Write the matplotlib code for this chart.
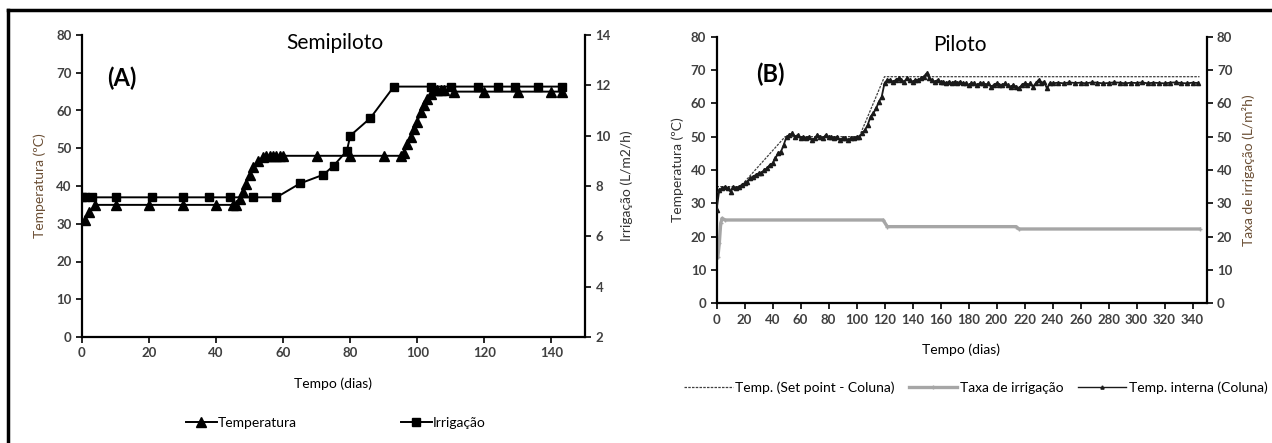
import matplotlib
matplotlib.use("Agg")
import matplotlib.pyplot as plt
from matplotlib.lines import Line2D
import numpy as np

plt.rcParams['font.family'] = ['Lato', 'DejaVu Sans']

# ---------------- Panel A data ----------------
tempA_x = [1, 2, 4, 10, 20, 30, 40, 45, 46, 47, 48, 49, 50, 51, 52.5, 54, 55, 56, 57, 58, 59, 60,
           70, 80, 90, 95, 96, 97, 98, 99, 100, 101, 102, 103, 104, 105, 106, 107, 108, 111, 120, 130, 140, 143]
tempA_y = [31, 33, 35, 35, 35, 35, 35, 35, 35, 36.5, 38.5, 40.5, 43, 45, 46.5, 47.8, 48, 48, 48, 48, 48, 48,
           48, 48, 48, 48, 48.7, 51, 53, 55, 57, 59.5, 61.5, 63, 64.5, 65.5, 65.5, 65.5, 65.5, 65, 65, 65, 65, 65]

irrA_x = [0, 1, 3, 10, 21, 30, 38, 44, 51, 58, 65, 72, 75, 79, 80, 86, 93, 104, 110, 118, 124, 129, 136, 143]
irrA_y = [7.55, 7.55, 7.55, 7.55, 7.55, 7.55, 7.55, 7.55, 7.55, 7.55, 8.1, 8.45, 8.8, 9.4, 10.0, 10.7,
          11.95, 11.95, 11.95, 11.95, 11.95, 11.95, 11.95, 11.95]

xticksA = [0, 20, 40, 60, 80, 100, 120, 140]
yticksA_left = [0, 10, 20, 30, 40, 50, 60, 70, 80]
yticksA_right = [2, 4, 6, 8, 10, 12, 14]

# ---------------- Panel B data ----------------
sp_x = [0, 17, 49, 102, 120, 345]
sp_y = [35, 35, 50, 50, 68, 68]

irrB_x = [1, 2, 3, 4, 6, 119, 122, 214, 216, 345]
irrB_y = [14, 18, 24, 25.5, 25, 25, 23, 23, 22.3, 22.3]

tint_x1 = list(range(0, 242, 2))
tint_y1 = [28, 34, 34.5, 35, 34.5, 33.5, 35, 34.5, 35, 35.5,
           36, 36.5, 37.5, 38, 38.5, 39, 39, 40, 40.5, 41.5,
           42, 43.5, 45, 45.5, 47.5, 50, 50.5, 51, 50, 50.5,
           49.5, 50, 49.5, 50, 49, 49.5, 50.5, 50, 49.5, 50.5,
           50, 50, 49.5, 50, 49, 49.5, 49.5, 49, 49.5, 49.5,
           50, 50, 51, 52, 53.5, 56, 57, 58.5, 60.5, 62,
           66, 67, 67, 66.5, 67, 67.5, 67, 66.5, 67.5, 67,
           66.5, 67, 67, 67.5, 68, 69, 67.5, 67, 66.5, 67,
           66.5, 66.5, 66, 66.5, 66, 66.5, 66, 66.5, 66, 66,
           65.5, 66, 66, 65.5, 66, 66, 65.5, 66, 65, 65.5,
           66, 65.5, 65.5, 66, 65.5, 65, 65.5, 65, 64.5, 65.5,
           66, 65.5, 66, 65, 66, 67, 66, 66.5, 64.5, 66, 66]
tint_x2 = list(range(244, 348, 4))
tint_y2 = [66.2, 66, 66.3, 66.1, 66.2, 66, 66.3, 66.2, 66, 66.1, 66.3, 66.2, 66,
           66.2, 66.1, 66.3, 66, 66.2, 66.1, 66, 66.2, 66.3, 66.1, 66, 66.2, 66.1]
tint_x = tint_x1 + tint_x2
tint_y = tint_y1 + tint_y2

xticksB = list(range(0, 341, 20))
yticksB = list(range(0, 81, 10))

W, H = 1272, 443
fig = plt.figure(figsize=(W / 100, H / 100), dpi=100)

def fx(px):
    return px / W

def fy(py):
    return 1 - py / H

tick_color = '#404040'
tick_kw = dict(labelsize=9.5, colors='black', labelcolor=tick_color, width=1.2, length=4, direction='out')
lab_fs = 10

def finish(a_main, a_twin):
    a_main.spines['right'].set_visible(False)
    a_main.spines['top'].set_visible(False)
    a_twin.spines['top'].set_visible(False)
    a_twin.spines['left'].set_visible(False)
    a_twin.spines['bottom'].set_visible(False)
    for a in (a_main, a_twin):
        a.tick_params(**tick_kw)
        for s in a.spines.values():
            s.set_linewidth(1.6)
        for lab in a.get_xticklabels() + a.get_yticklabels():
            lab.set_fontweight('bold')

# ---------------- Panel A ----------------
axA = fig.add_axes([fx(82), fy(337), fx(585) - fx(82), fy(35) - fy(337)])
axA2 = axA.twinx()
axA.plot(tempA_x, tempA_y, color='black', lw=1.4, marker='^', ms=6.5, zorder=3)
axA2.plot(irrA_x, irrA_y, color='black', lw=1.4, marker='s', ms=5.8, zorder=3)
axA.set_xlim(0, 150)
axA.set_ylim(0, 80)
axA2.set_ylim(2, 14)
axA.set_xticks(xticksA)
axA.set_yticks(yticksA_left)
axA2.set_yticks(yticksA_right)
finish(axA, axA2)
axA.set_xlabel('Tempo (dias)', fontsize=lab_fs, labelpad=13)
axA.set_ylabel('Temperatura (ºC)', fontsize=lab_fs, color='#6b4f35', labelpad=7)
axA2.set_ylabel('Irrigação (L/m2/h)', fontsize=lab_fs, color='#333333', labelpad=7)
axA.text(0.503, 0.975, 'Semipiloto', transform=axA.transAxes, fontsize=15, ha='center', va='center')
axA.text(0.08, 0.857, '(A)', transform=axA.transAxes, fontsize=17, fontweight='bold', ha='center', va='center')

hA = [Line2D([], [], color='black', lw=1.4, marker='^', ms=6.5),
      Line2D([], [], color='black', lw=1.4, marker='s', ms=5.8)]
fig.legend(hA, ['Temperatura', 'Irrigação'], loc='center', bbox_to_anchor=(fx(336), fy(423)),
           ncol=2, frameon=False, fontsize=10, columnspacing=7.5, handlelength=2.2, handletextpad=0.1)

# ---------------- Panel B ----------------
axB = fig.add_axes([fx(716.5), fy(303.3), fx(1206.5) - fx(716.5), fy(36.7) - fy(303.3)])
axB2 = axB.twinx()
axB.plot(sp_x, sp_y, color='#404040', lw=0.9, ls=(0, (2, 1)), zorder=2)
axB.plot(irrB_x, irrB_y, color='#a6a6a6', lw=2.4, marker='+', ms=3, zorder=2)
axB.plot(tint_x, tint_y, color='#1a1a1a', lw=1.3, marker='^', ms=3, zorder=3)
axB.set_xlim(0, 350)
axB.set_ylim(0, 80)
axB2.set_ylim(0, 80)
axB.set_xticks(xticksB)
axB.set_yticks(yticksB)
axB2.set_yticks(yticksB)
finish(axB, axB2)
axB.set_xlabel('Tempo (dias)', fontsize=lab_fs, labelpad=13)
axB.set_ylabel('Temperatura (ºC)', fontsize=lab_fs, color='#333333', labelpad=5)
axB2.set_ylabel('Taxa de irrigação (L/m²h)', fontsize=lab_fs, color='#6b4f35', labelpad=7)
axB.text(0.497, 0.97, 'Piloto', transform=axB.transAxes, fontsize=15, ha='center', va='center')
axB.text(0.109, 0.86, '(B)', transform=axB.transAxes, fontsize=17, fontweight='bold', ha='center', va='center')

hB = [Line2D([], [], color='#404040', lw=0.9, ls=(0, (2, 1))),
      Line2D([], [], color='#a6a6a6', lw=2.4, marker='+', ms=3),
      Line2D([], [], color='#1a1a1a', lw=1.0, marker='^', ms=2.3)]
fig.legend(hB, ['Temp. (Set point - Coluna)', 'Taxa de irrigação', 'Temp. interna (Coluna)'],
           loc='center', bbox_to_anchor=(fx(976), fy(388)), ncol=3, frameon=False, fontsize=10,
           columnspacing=1.0, handlelength=3.5, handletextpad=0.2)

# ---------------- frame lines ----------------
fig.add_artist(Line2D([fx(8), 1], [fy(10), fy(10)], color='black', lw=2.5))
fig.add_artist(Line2D([fx(8), fx(8)], [fy(10), 0], color='black', lw=2.5))

fig.savefig('out.png', dpi=100)
